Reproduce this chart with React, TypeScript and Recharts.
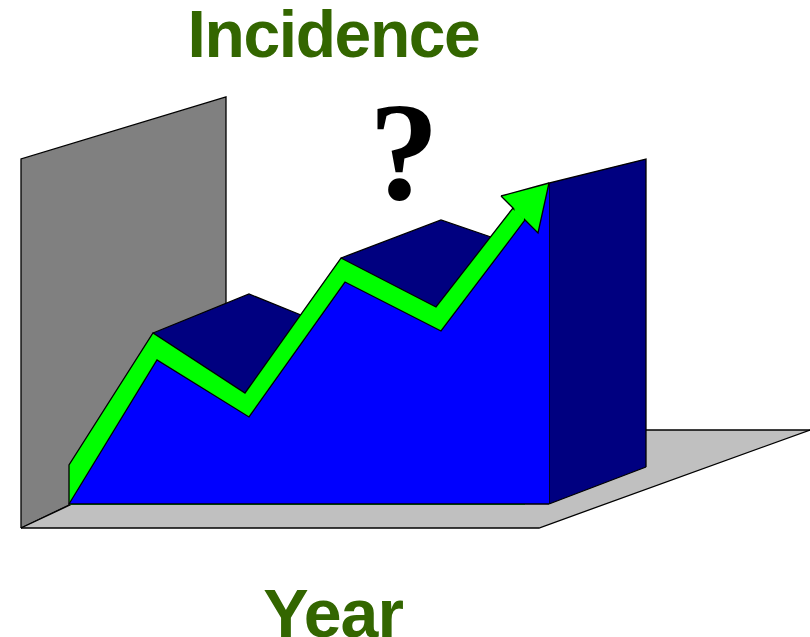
import { Area, ComposedChart, XAxis, YAxis } from "recharts"

// x = position along the year axis, y = picture scale (0 is the top)
const wallX = [21, 21, 226, 226]
const wallTop = [528, 159, 97, 430]
const wallBase = [528, 528, 430, 430]

const floorX = [21, 70, 226, 539, 810]
const floorTop = [528, 505, 430, 430, 430]
const floorBase = [528, 528, 528, 528, 430]

const sideX = [549, 549, 646, 646]
const sideTop = [504, 183, 159, 467]
const sideBase = [504, 504, 467, 467]

const firstStepX = [153, 249, 301]
const firstStepTop = [333, 294, 315]

const secondStepX = [341, 441, 491]
const secondStepTop = [258, 220, 237]

const ribbonX = [69, 69, 153, 245, 341, 436, 513, 525]
const ribbonTop = [505, 465, 333, 393, 258, 307, 208, 220]

const frontX = [69, 157, 249, 345, 441, 525, 549]
const frontTop = [504, 360, 417, 282, 331, 220, 183]

const headX = [501, 538, 549]
const headTop = [196, 186, 183]
const headBase = [196, 233, 183]

// green join between the ribbon and the arrow head
const joinX = [514.5, 524]
const joinTop = [207, 216.5]
const joinBase = [211.5, 220.5]

const outline = (x: number[], top: number[], base?: number[]) =>
  x.map((v, i) => ({ x: v, top: top[i], range: base ? [base[i], top[i]] : undefined }))

const frontBase = frontX.map(() => 504)

const titleColor = "#336600"
const sans = "'Liberation Sans', Arial, sans-serif"

export default function App() {
  return (
    <div style={{ position: "absolute", left: 0, top: 0, width: 810, height: 637, overflow: "hidden", background: "#fff" }}>
      <ComposedChart width={810} height={637} margin={{ top: 0, right: 0, bottom: 0, left: 0 }}>
        <XAxis dataKey="x" type="number" domain={[0, 810]} hide />
        <YAxis type="number" domain={[0, 637]} reversed hide />
        <Area data={outline(wallX, wallTop, wallBase)} dataKey="range" type="linear" fill="#808080" fillOpacity={1} stroke="#000" strokeWidth={1.3} dot={false} activeDot={false} isAnimationActive={false} />
        <Area data={outline(floorX, floorTop, floorBase)} dataKey="range" type="linear" fill="#c0c0c0" fillOpacity={1} stroke="#000" strokeWidth={1.3} dot={false} activeDot={false} isAnimationActive={false} />
        <Area data={outline(sideX, sideTop, sideBase)} dataKey="range" type="linear" fill="#000080" fillOpacity={1} stroke="#000" strokeWidth={1.3} dot={false} activeDot={false} isAnimationActive={false} />
        <Area data={outline(firstStepX, firstStepTop)} dataKey="top" baseValue={504} type="linear" fill="#000080" fillOpacity={1} stroke="#000" strokeWidth={1.3} dot={false} activeDot={false} isAnimationActive={false} />
        <Area data={outline(secondStepX, secondStepTop)} dataKey="top" baseValue={504} type="linear" fill="#000080" fillOpacity={1} stroke="#000" strokeWidth={1.3} dot={false} activeDot={false} isAnimationActive={false} />
        <Area data={outline(ribbonX, ribbonTop)} dataKey="top" baseValue={505} type="linear" fill="#00ff00" fillOpacity={1} stroke="#000" strokeWidth={1.3} dot={false} activeDot={false} isAnimationActive={false} />
        <Area data={outline(frontX, frontTop, frontBase)} dataKey="range" type="linear" fill="#0000ff" fillOpacity={1} stroke="#000" strokeWidth={1.3} dot={false} activeDot={false} isAnimationActive={false} />
        <Area data={outline(headX, headTop, headBase)} dataKey="range" type="linear" fill="#00ff00" fillOpacity={1} stroke="#000" strokeWidth={1.3} dot={false} activeDot={false} isAnimationActive={false} />
        <Area data={outline(joinX, joinTop, joinBase)} dataKey="range" type="linear" fill="#00ff00" fillOpacity={1} stroke="none" dot={false} activeDot={false} isAnimationActive={false} />
        <text x={333.5} y={56.5} textAnchor="middle" fontFamily={sans} fontWeight="bold" fontSize={66} letterSpacing={-1.4} fill={titleColor}>Incidence</text>
        <text x={404} y={199} textAnchor="middle" fontFamily="'Liberation Serif', serif" fontWeight="bold" fontSize={140} fill="#000">?</text>
        <text x={333} y={637} textAnchor="middle" fontFamily={sans} fontWeight="bold" fontSize={68} letterSpacing={-1} fill={titleColor}>Year</text>
      </ComposedChart>
    </div>
  )
}
